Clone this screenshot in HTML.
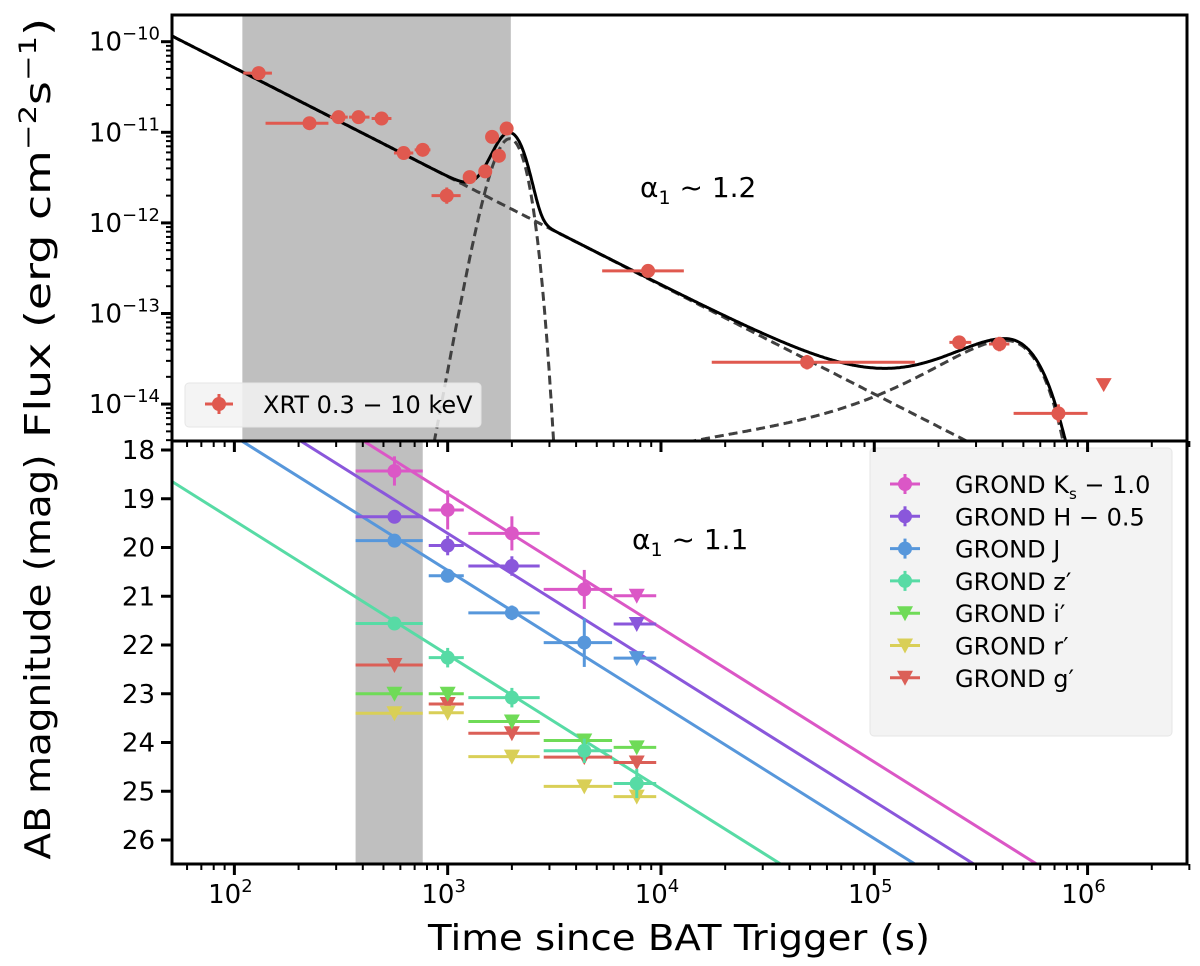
<!DOCTYPE html>
<html><head><meta charset="utf-8"><style>
html,body{margin:0;background:#fff;overflow:hidden;width:1200px;height:966px}
svg{display:block;font-family:"DejaVu Sans","Liberation Sans",sans-serif}
</style></head><body>
<svg id="fig" width="1200" height="966" viewBox="0 0 1200 966" xmlns="http://www.w3.org/2000/svg">
<defs>
<clipPath id="clipT"><rect x="172" y="15" width="1015" height="426"/></clipPath>
<clipPath id="clipB"><rect x="172" y="441" width="1015" height="423"/></clipPath>
</defs>
<g id="topPanel"></g>
<g id="botPanel"></g>
<g id="axesGroup"></g>
</svg>
<script>
// ---- X-ray data ----
const xrtTime = [130, 225, 308, 382, 490, 622, 764, 990, 1268, 1500, 1615, 1738, 1890, 8700, 48400, 250000, 386000, 730000];
const xrtFlux = [4.5e-11, 1.26e-11, 1.47e-11, 1.47e-11, 1.42e-11, 5.9e-12, 6.4e-12, 2.0e-12, 3.2e-12, 3.7e-12, 8.9e-12, 5.5e-12, 1.1e-11, 2.95e-13, 2.9e-14, 4.8e-14, 4.6e-14, 7.9e-15];
const xrtTLo = [110, 140, 280, 345, 440, 560, 700, 840, 1180, 1400, 1560, 1680, 1800, 5300, 17300, 225000, 345000, 450000];
const xrtTHi = [150, 276, 340, 430, 545, 690, 830, 1150, 1360, 1600, 1680, 1800, 1980, 12800, 155000, 285000, 430000, 1000000];
const xrtErrDex = [0.06, 0.07, 0.05, 0.05, 0.05, 0.06, 0.06, 0.09, 0.06, 0.06, 0.06, 0.07, 0.05, 0.05, 0.08, 0.05, 0.08, 0.1];
const xrtULTime = [1190000];
const xrtULFlux = [1.62e-14];
// ---- model parameters ----
const plNorm = 1.156e-10, plT0 = 51, plIndex = 1.2;
const flareAmp = 8.5e-12, flarePeak = 1950, flareRise = 391, flareDecay = 428;
const bumpAmp = 5.1e-14, bumpPeak = 410000, bumpRise = 262000, bumpDecay = 223000, bumpCut = 4000;
// ---- optical data ----
const optTimes = [563, 1000, 2000, 4370, 7700];
const optTLo = [370, 815, 1250, 2820, 6000];
const optTHi = [764, 1190, 2700, 5900, 9500];
const bands = ["Ks","H","J","z","i","r","g"];
const bandLabels = ["GROND K<tspan font-size='15' dy='6'>s</tspan><tspan dy='-6'> − 1.0</tspan>","GROND H − 0.5","GROND J","GROND z′","GROND i′","GROND r′","GROND g′"];
const bandColors = ["#db57c6","#8a57db","#5797db","#57dba5","#6fdb57","#d9cf57","#db5f57"];
const magKs = [18.43, 19.23, 19.71, 20.86, 20.99];
const typeKs = ["d","d","d","d","u"];
const magH = [19.37, 19.96, 20.38, null, 21.57];
const typeH = ["d","d","d","","u"];
const magJ = [19.86, 20.58, 21.34, 21.95, 22.27];
const typeJ = ["d","d","d","d","u"];
const magZ = [21.56, 22.26, 23.08, 24.17, 24.84];
const typeZ = ["d","d","d","d","d"];
const magI = [23.0, 23.0, 23.57, 23.96, 24.1];
const magR = [23.4, 23.39, 24.29, 24.9, 25.11];
const magG = [22.41, 23.21, 23.81, 24.3, 24.41];
const magErrKs = [0.3, 0.4, 0.35, 0.4, 0];
const magErrH = [0.1, 0.2, 0.2, 0, 0];
const magErrJ = [0.1, 0.12, 0.15, 0.5, 0];
const magErrZ = [0.1, 0.2, 0.2, 0.25, 0.3];
const fitMag1000 = [18.90, 19.71, 20.47, 22.20];
const fitSlope = 2.75;
const xTickVals = [1e2,1e3,1e4,1e5,1e6];
const xTickExp = ["2","3","4","5","6"];
const yTopTickExp = [-10,-11,-12,-13,-14];
const yBotTicks = [18,19,20,21,22,23,24,25,26];

const NS="http://www.w3.org/2000/svg";
const L10=Math.log10;
function xs(t){return 172+(L10(t)-L10(51))*213.3;}
function yT(f){return 41.7+(-10-L10(f))*90.6;}
function yB(m){return 450+(m-18)*48.75;}
function mk(tag,attrs,parent){const e=document.createElementNS(NS,tag);for(const k in attrs)e.setAttribute(k,attrs[k]);parent.appendChild(e);return e;}
const gTop=document.getElementById('topPanel'),gBot=document.getElementById('botPanel'),gAxes=document.getElementById('axesGroup');
const gT=mk('g',{'clip-path':'url(#clipT)'},gTop);
const gB=mk('g',{'clip-path':'url(#clipB)'},gBot);

let s1=mk('rect',{x:xs(109),y:15,width:xs(1977)-xs(109),height:426,fill:'#bfbfbf'},gT);


let s2=mk('rect',{x:xs(370),y:441,width:xs(764)-xs(370),height:423,fill:'#bfbfbf'},gB);



function pl(t){return plNorm*Math.pow(t/plT0,-plIndex);}
function ag(t,A,p,r,d){const s=t<p?r:d;return A*Math.exp(-Math.pow((t-p)/s,2));}
function flare(t){return ag(t,flareAmp,flarePeak,flareRise,flareDecay);}
function bump(t){return ag(t,bumpAmp,bumpPeak,bumpRise,bumpDecay)*Math.exp(-bumpCut/t);}
function pathOf(fn){let d='';for(let i=0;i<=900;i++){const t=Math.pow(10,L10(45)+i*(L10(3.2e6)-L10(45))/900);let f=fn(t);if(f<1e-18)f=1e-18;d+=(i?'L':'M')+xs(t).toFixed(1)+','+yT(f).toFixed(1);}return d;}
const comps=[[pl,'model-powerlaw-component'],[flare,'model-flare-component'],[bump,'model-bump-component']];
comps.forEach(c=>{const p=mk('path',{d:pathOf(c[0]),fill:'none',stroke:'#404040','stroke-width':3,'stroke-dasharray':'9,5'},gT);

});
const tot=mk('path',{d:pathOf(t=>pl(t)+flare(t)+bump(t)),fill:'none',stroke:'#000','stroke-width':3},gT);



const red='#e0594f';
xrtTime.forEach((t,i)=>{const g=mk('g',{},gT);


const x=xs(t),y=yT(xrtFlux[i]);
mk('line',{x1:xs(xrtTLo[i]),x2:xs(xrtTHi[i]),y1:y,y2:y,stroke:red,'stroke-width':3},g);
mk('line',{x1:x,x2:x,y1:yT(xrtFlux[i]*Math.pow(10,xrtErrDex[i])),y2:yT(xrtFlux[i]/Math.pow(10,xrtErrDex[i])),stroke:red,'stroke-width':3},g);
mk('circle',{cx:x,cy:y,r:7,fill:red},g);});
xrtULTime.forEach((t,i)=>{const x=xs(t),y=yT(xrtULFlux[i]);
const p=mk('path',{d:`M${x-8},${y-7}L${x+8},${y-7}L${x},${y+7}Z`,fill:red},gT);

});

fitMag1000.forEach((m,i)=>{const f=t=>m+fitSlope*(L10(t)-3);
const l=mk('line',{x1:xs(45),y1:yB(f(45)),x2:xs(3.2e6),y2:yB(f(3.2e6)),stroke:bandColors[i],'stroke-width':3},gB);

});
const magArr=[magKs,magH,magJ,magZ,magI,magR,magG];
const typeArr=[typeKs,typeH,typeJ,typeZ,["u","u","u","u","u"],["u","u","u","u","u"],["u","u","u","u","u"]];
const errArr=[magErrKs,magErrH,magErrJ,magErrZ,[0,0,0,0,0],[0,0,0,0,0],[0,0,0,0,0]];
for(let b=6;b>=0;b--){const c=bandColors[b];
magArr[b].forEach((m,i)=>{if(m===null)return;const g=mk('g',{},gB);


const x=xs(optTimes[i]),y=yB(m);
mk('line',{x1:xs(optTLo[i]),x2:xs(optTHi[i]),y1:y,y2:y,stroke:c,'stroke-width':3},g);
const e=errArr[b][i];
if(e>0)mk('line',{x1:x,x2:x,y1:yB(m-e),y2:yB(m+e),stroke:c,'stroke-width':3},g);
if(typeArr[b][i]==='u')mk('path',{d:`M${x-8},${y-7}L${x+8},${y-7}L${x},${y+8}Z`,fill:c},g);
else mk('circle',{cx:x,cy:y,r:7,fill:c},g);});}

const lg1=mk('g',{},gTop);


mk('rect',{x:185,y:383,width:296,height:44,rx:4,fill:'#f2f2f2','fill-opacity':0.85,stroke:'#e6e6e6'},lg1);
mk('line',{x1:205,x2:233,y1:404,y2:404,stroke:red,'stroke-width':3},lg1);
mk('line',{x1:219,x2:219,y1:394,y2:414,stroke:red,'stroke-width':3},lg1);
mk('circle',{cx:219,cy:404,r:7,fill:red},lg1);
const lt=mk('text',{x:263,y:413,'font-size':24,fill:'#000'},lg1);lt.textContent='XRT 0.3 − 10 keV';

const lg2=mk('g',{},gBot);


mk('rect',{x:870,y:448,width:302,height:288,rx:4,fill:'#f2f2f2','fill-opacity':0.9,stroke:'#e6e6e6'},lg2);
bands.forEach((b,i)=>{const y=484+i*32.3,c=bandColors[i];const g=mk('g',{},lg2);


mk('line',{x1:890,x2:920,y1:y,y2:y,stroke:c,'stroke-width':3},g);
if(i<4){mk('line',{x1:905,x2:905,y1:y-10,y2:y+10,stroke:c,'stroke-width':3},g);mk('circle',{cx:905,cy:y,r:7,fill:c},g);}
else mk('path',{d:`M${897},${y-7}L${913},${y-7}L${905},${y+8}Z`,fill:c},g);
const t=mk('text',{x:955,y:y+9,'font-size':24},g);t.innerHTML=bandLabels[i];});

const a1=mk('text',{x:640,y:197,'font-size':28},gTop);a1.innerHTML="α<tspan font-size='19' dy='7'>1</tspan><tspan dy='-7'> ~ 1.2</tspan>";


const a2=mk('text',{x:632,y:549,'font-size':28},gBot);a2.innerHTML="α<tspan font-size='19' dy='7'>1</tspan><tspan dy='-7'> ~ 1.1</tspan>";



mk('rect',{x:172,y:15,width:1015,height:426,fill:'none',stroke:'#000','stroke-width':3},gAxes);
mk('rect',{x:172,y:441,width:1015,height:423,fill:'none',stroke:'#000','stroke-width':3},gAxes);
[441,864].forEach(yb=>{for(let e=1;e<=6;e++)for(let k=1;k<=9;k++){const t=k*Math.pow(10,e);if(t<51||t>3e6)continue;const x=xs(t);
mk('line',{x1:x,x2:x,y1:yb,y2:yb+(k===1?11:6),stroke:'#000','stroke-width':k===1?3:2},gAxes);}});
xTickVals.forEach((t,i)=>{const tx=mk('text',{x:xs(t)-4,y:903,'font-size':26,'text-anchor':'middle'},gAxes);
tx.innerHTML="10<tspan font-size='18' dy='-11'>"+xTickExp[i]+"</tspan>";

});
for(let e=-15;e<=-9;e++)for(let k=1;k<=9;k++){const f=k*Math.pow(10,e);const y=yT(f);if(y<15||y>441)continue;
mk('line',{x1:172,x2:172-(k===1?11:6),y1:y,y2:y,stroke:'#000','stroke-width':k===1?3:2},gAxes);}
yTopTickExp.forEach(e=>{const tx=mk('text',{x:160,y:yT(Math.pow(10,e))+9,'font-size':26,'text-anchor':'end'},gAxes);
tx.innerHTML="10<tspan font-size='18' dy='-11'>−"+(-e)+"</tspan>";

});
yBotTicks.forEach(m=>{const y=yB(m);mk('line',{x1:172,x2:161,y1:y,y2:y,stroke:'#000','stroke-width':3},gAxes);
const tx=mk('text',{x:155,y:y+9,'font-size':26,'text-anchor':'end'},gAxes);tx.textContent=m;

});
const yl1=mk('text',{x:-228,y:50,'font-size':36,'text-anchor':'middle',transform:'rotate(-90)',textLength:420,lengthAdjust:'spacingAndGlyphs'},gAxes);
yl1.innerHTML="Flux (erg cm<tspan font-size='24' dy='-14'>−2</tspan><tspan dy='14'>s</tspan><tspan font-size='24' dy='-14'>−1</tspan><tspan dy='14'>)</tspan>";


const yl2=mk('text',{x:-657,y:50,'font-size':36,'text-anchor':'middle',transform:'rotate(-90)',textLength:405,lengthAdjust:'spacingAndGlyphs'},gAxes);
yl2.textContent='AB magnitude (mag)';


const xl=mk('text',{x:679,y:950,'font-size':36,'text-anchor':'middle',textLength:502,lengthAdjust:'spacingAndGlyphs'},gAxes);
xl.textContent='Time since BAT Trigger (s)';


</script>
</body></html>
